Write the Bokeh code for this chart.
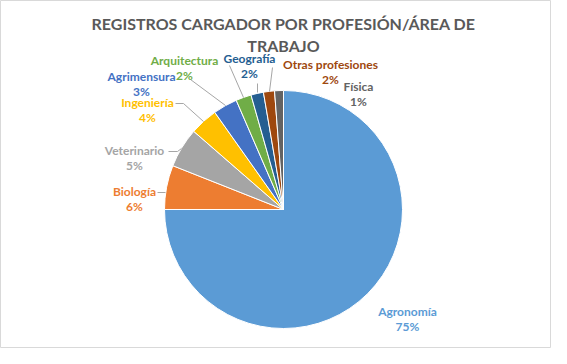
import math
from bokeh.plotting import figure
from bokeh.models import Range1d, ColumnDataSource
from bokeh.core.properties import value
from bokeh.embed import file_html
from bokeh.resources import INLINE

# ---- data ----
title_lines = ["REGISTROS CARGADOR POR PROFESIÓN/ÁREA DE", "TRABAJO"]
categories = ["Agronomía", "Biología", "Veterinario", "Ingeniería", "Agrimensura",
              "Arquitectura", "Geografía", "Otras profesiones", "Física"]
percents = [75.0, 6.0, 5.4, 3.8, 3.3, 2.1, 1.7, 1.5, 1.2]
colors = ["#5B9BD5", "#ED7D31", "#A5A5A5", "#FFC000", "#4472C4",
          "#70AD47", "#255E91", "#9E480E", "#636363"]

# ---- layout (reference pixel coords) ----
W, H = 551, 348
def Y(y):
    return 364 - y

cx, cy, R = 283, 209, 119
name_pos = [(407, 311), (134, 191), (134, 150), (147, 102), (141, 76),
            (184, 60), (249, 58), (330, 64), (358, 86)]
pct_dy = 15
leaders = [
    None,
    [(157, 192), (165, 192)],
    [(168, 151), (177, 151), (181, 148)],
    [(175, 103), (183, 103), (203, 121)],
    [(190, 79), (225, 105)],
    [(229, 65), (243, 97)],
    [(257, 83), (257, 92)],
    [(272, 67), (269, 91)],
    None,
]

p = figure(width=W, height=H, output_backend="svg", toolbar_location=None,
           x_range=Range1d(0, W), y_range=Range1d(364 - H, 364),
           min_border=0, background_fill_color="white", border_fill_color="white")
p.axis.visible = False
p.grid.visible = False
p.outline_line_color = "#D9D9D9"

total = sum(percents)
starts, ends = [], []
cum = 0.0
for v in percents:
    a0 = math.pi / 2 - 2 * math.pi * cum / total
    cum += v
    a1 = math.pi / 2 - 2 * math.pi * cum / total
    starts.append(a0)
    ends.append(a1)

src = ColumnDataSource(dict(cat=categories, start=ends, end=starts, color=colors))
p.wedge(x=cx, y=Y(cy), radius=R, start_angle="start", end_angle="end",
        fill_color="color", line_color="white", line_width=1, source=src)

# leader lines
xs, ys = [], []
for ld in leaders:
    if ld:
        xs.append([pt[0] for pt in ld])
        ys.append([Y(pt[1]) for pt in ld])
p.multi_line(xs=xs, ys=ys, line_color="#A6A6A6", line_width=1)

# labels
lab = ColumnDataSource(dict(
    x=[q[0] for q in name_pos],
    y=[Y(q[1]) for q in name_pos],
    y2=[Y(q[1] + pct_dy) for q in name_pos],
    name=categories,
    pct=[f"{round(v)}%" for v in percents],
    color=colors,
))
for col in ("y", "y2"):
    p.text(x="x", y=col, text="name" if col == "y" else "pct", text_color="color",
           source=lab, text_font=value("Lato"), text_font_size="12px",
           text_font_style="bold", text_align="center", text_baseline="middle")

# title
p.text(x=[283, 283], y=[Y(23), Y(45)], text=title_lines,
       text_font=value("Lato"), text_font_size="16px", text_font_style="bold",
       text_color="#595959", text_align="center", text_baseline="middle")

open("out.html", "w").write(file_html(p, INLINE))
